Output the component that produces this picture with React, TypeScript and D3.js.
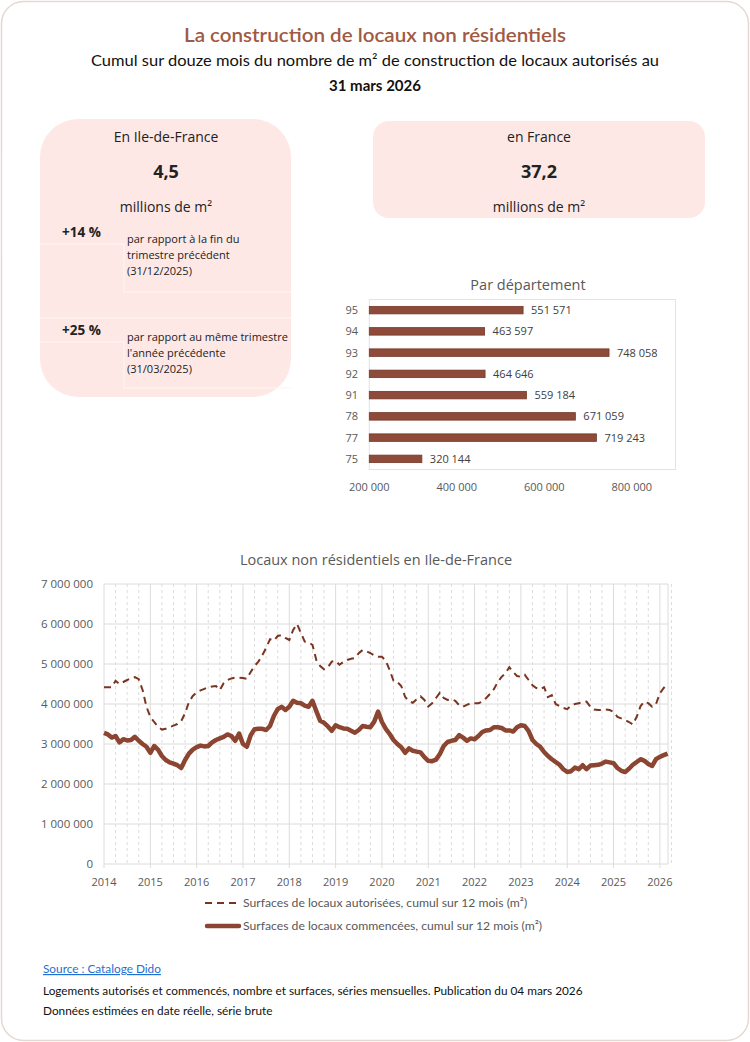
import React from 'react';
import * as d3 from 'd3';

// ---- Data ----
const departements = ['95', '94', '93', '92', '91', '78', '77', '75'];
const surfacesDep = [551571, 463597, 748058, 464646, 559184, 671059, 719243, 320144];
const barTicks = [200000, 400000, 600000, 800000];

const yearLabels = ['2014', '2015', '2016', '2017', '2018', '2019', '2020', '2021', '2022', '2023', '2024', '2025', '2026'];
const yTicks = [0, 1000000, 2000000, 3000000, 4000000, 5000000, 6000000, 7000000];

// monthly, Jan 2014 .. Mar 2026, millions of m²
const autorisees = [
  4.42, 4.42, 4.42, 4.58, 4.50, 4.55, 4.60, 4.64, 4.67, 4.62, 4.35, 3.93,
  3.68, 3.55, 3.43, 3.36, 3.38, 3.42, 3.46, 3.50, 3.57, 3.77, 4.05, 4.20,
  4.29, 4.34, 4.38, 4.42, 4.44, 4.45, 4.35, 4.52, 4.60, 4.64, 4.66, 4.66,
  4.65, 4.63, 4.80, 4.95, 5.06, 5.22, 5.40, 5.62, 5.58, 5.70, 5.72, 5.65,
  5.60, 5.85, 6.00, 5.78, 5.56, 5.54, 5.48, 5.10, 4.95, 4.87, 4.92, 5.06,
  5.08, 4.98, 5.05, 5.10, 5.13, 5.15, 5.27, 5.35, 5.32, 5.27, 5.22, 5.18,
  5.18, 5.08, 4.85, 4.58, 4.55, 4.45, 4.18, 4.07, 4.03, 4.12, 4.19, 4.10,
  3.94, 4.02, 4.15, 4.28, 4.15, 4.10, 4.12, 4.08, 3.97, 3.93, 3.98, 4.02,
  4.02, 4.02, 4.06, 4.15, 4.25, 4.37, 4.55, 4.68, 4.77, 4.92, 4.80, 4.70,
  4.68, 4.73, 4.60, 4.47, 4.40, 4.37, 4.42, 4.17, 4.22, 4.00, 3.95, 3.90,
  3.87, 3.96, 4.00, 4.02, 4.04, 4.06, 3.93, 3.86, 3.85, 3.85, 3.86, 3.85,
  3.80, 3.68, 3.64, 3.60, 3.55, 3.49, 3.68, 3.95, 4.06, 4.02, 3.93, 4.00,
  4.27, 4.40, 4.50,
];
const commencees = [
  3.28, 3.24, 3.16, 3.20, 3.04, 3.12, 3.09, 3.10, 3.18, 3.08, 3.00, 2.93,
  2.78, 2.95, 2.86, 2.70, 2.60, 2.54, 2.51, 2.47, 2.40, 2.60, 2.76, 2.86,
  2.92, 2.96, 2.94, 2.95, 3.04, 3.10, 3.14, 3.18, 3.24, 3.20, 3.08, 3.26,
  3.00, 2.93, 3.22, 3.37, 3.38, 3.38, 3.35, 3.45, 3.70, 3.87, 3.93, 3.85,
  3.93, 4.08, 4.03, 4.02, 3.96, 3.93, 4.08, 3.82, 3.58, 3.53, 3.44, 3.33,
  3.47, 3.42, 3.39, 3.38, 3.33, 3.28, 3.35, 3.45, 3.43, 3.42, 3.56, 3.81,
  3.55, 3.38, 3.25, 3.10, 3.00, 2.92, 2.78, 2.89, 2.83, 2.81, 2.79, 2.67,
  2.58, 2.57, 2.61, 2.75, 2.95, 3.05, 3.08, 3.10, 3.22, 3.16, 3.08, 3.14,
  3.12, 3.20, 3.30, 3.34, 3.35, 3.42, 3.42, 3.40, 3.34, 3.34, 3.31, 3.42,
  3.47, 3.45, 3.32, 3.10, 3.00, 2.93, 2.80, 2.70, 2.62, 2.55, 2.48, 2.37,
  2.30, 2.32, 2.41, 2.37, 2.47, 2.37, 2.46, 2.47, 2.48, 2.51, 2.56, 2.54,
  2.52, 2.40, 2.33, 2.30, 2.38, 2.48, 2.55, 2.62, 2.58, 2.50, 2.45, 2.62,
  2.68, 2.72, 2.76,
];

const legendLabels = [
  'Surfaces de locaux autorisées, cumul sur 12 mois (m²)',
  'Surfaces de locaux commencées, cumul sur 12 mois (m²)',
];

const fmt = (v: number) => d3.format(',')(v).replace(/,/g, ' ');

const GRAY = '#595959';
const BROWN = '#8b4531';
const PINK = '#fde8e6';
const FONT_C = 'Lato, "Open Sans", sans-serif';
const FONT_M = '"Open Sans", "Noto Sans", sans-serif';

export default function App() {
  // bar chart scales
  const xBar = d3.scaleLinear().domain([200000, 900000]).range([369.3, 675.5]);
  const pIn = 0.647;
  const yBar = d3.scaleBand<string>().domain(departements).range([299.5, 469.5]).paddingInner(pIn).paddingOuter(pIn / 2);

  // line chart scales
  const nMonths = autorisees.length;
  const xL = d3.scaleLinear().domain([0, nMonths - 1]).range([104, 667.6]);
  const yL = d3.scaleLinear().domain([0, 7000000]).range([864, 584]);
  const line = d3.line<number>().x((_, i) => xL(i)).y((d) => yL(d * 1e6)).curve(d3.curveLinear);
  const quarterLines = d3.range(3, nMonths + 1, 3).filter((m) => m % 12 !== 0);

  return (
    <div style={{ position: 'absolute', left: 0, top: 0 }}>
      <svg width={750} height={1042} style={{ display: 'block' }}>
        <rect x={0} y={0} width={750} height={1042} fill="#ffffff" />
        <rect x={1.5} y={1.5} width={747} height={1039} rx={22} fill="#ffffff" stroke="#e7d7d3" strokeWidth={1.5} />

        {/* Titles */}
        <text x={375} y={42} textAnchor="middle" fontFamily={FONT_C} fontWeight={600} fontSize={19} fill="#a05a44" textLength={382} lengthAdjust="spacingAndGlyphs">
          La construction de locaux non résidentiels
        </text>
        <text x={375} y={66} textAnchor="middle" fontFamily={FONT_C} fontSize={15} fill="#111" textLength={568} lengthAdjust="spacingAndGlyphs">
          Cumul sur douze mois du nombre de m² de construction de locaux autorisés au
        </text>
        <text x={375} y={91} textAnchor="middle" fontFamily={FONT_C} fontWeight={700} fontSize={15} fill="#111" textLength={92} lengthAdjust="spacingAndGlyphs">
          31 mars 2026
        </text>

        {/* Left box */}
        <rect x={40} y={119} width={251} height={278} rx={38} fill={PINK} />
        <g stroke="#fff4f2" strokeWidth={1} fill="none">
          <line x1={40} y1={244} x2={124} y2={244} />
          <line x1={124} y1={244} x2={124} y2={292} />
          <line x1={124} y1={292} x2={291} y2={292} />
          <line x1={40} y1={318} x2={291} y2={318} />
          <line x1={40} y1={342} x2={124} y2={342} />
          <line x1={124} y1={342} x2={124} y2={388} />
          <line x1={124} y1={388} x2={291} y2={388} />
        </g>
        <g fontFamily={FONT_M} fill="#222">
          <text x={166} y={142} textAnchor="middle" fontSize={14}>En Ile-de-France</text>
          <text x={166} y={178} textAnchor="middle" fontSize={18} fontWeight={700}>4,5</text>
          <text x={166} y={212} textAnchor="middle" fontSize={14}>millions de m²</text>
          <text x={62} y={237} fontSize={13.5} fontWeight={700}>+14 %</text>
          <text x={127} y={243} fontSize={11}>par rapport à la fin du</text>
          <text x={127} y={259} fontSize={11}>trimestre précédent</text>
          <text x={127} y={275} fontSize={11}>(31/12/2025)</text>
          <text x={62} y={335} fontSize={13.5} fontWeight={700}>+25 %</text>
          <text x={127} y={341} fontSize={11}>par rapport au même trimestre</text>
          <text x={127} y={357} fontSize={11}>l'année précédente</text>
          <text x={127} y={373} fontSize={11}>(31/03/2025)</text>
        </g>

        {/* Right box */}
        <rect x={373} y={121} width={332} height={97} rx={16} fill={PINK} />
        <g fontFamily={FONT_M} fill="#222">
          <text x={539} y={142} textAnchor="middle" fontSize={14}>en France</text>
          <text x={539} y={178} textAnchor="middle" fontSize={18} fontWeight={700}>37,2</text>
          <text x={539} y={212} textAnchor="middle" fontSize={14}>millions de m²</text>
        </g>

        {/* Bar chart */}
        <text x={528} y={290} textAnchor="middle" fontFamily={FONT_M} fontSize={14.5} fill={GRAY}>Par département</text>
        <rect x={369.3} y={299.5} width={306.2} height={170} fill="none" stroke="#e3e3e3" strokeWidth={1} />
        {departements.map((d, i) => {
          const y0 = yBar(d) as number;
          const bw = yBar.bandwidth();
          const x1 = xBar(surfacesDep[i]);
          return (
            <g key={d}>
              <rect x={xBar(200000)} y={y0} width={x1 - xBar(200000)} height={bw} fill="#8e4b39" stroke="#74382a" strokeWidth={0.8} />
              <text x={x1 + 8} y={y0 + bw / 2 + 4} fontFamily={FONT_M} fontSize={11} fill="#404040">{fmt(surfacesDep[i])}</text>
              <text x={358} y={y0 + bw / 2 + 4} textAnchor="end" fontFamily={FONT_M} fontSize={11} fill={GRAY}>{d}</text>
            </g>
          );
        })}
        {barTicks.map((t) => (
          <text key={t} x={xBar(t)} y={491} textAnchor="middle" fontFamily={FONT_M} fontSize={11} fill={GRAY}>{fmt(t)}</text>
        ))}

        {/* Line chart */}
        <text x={376} y={565} textAnchor="middle" fontFamily={FONT_M} fontSize={14.5} fill={GRAY}>Locaux non résidentiels en Ile-de-France</text>
        <g>
          {quarterLines.map((m) => (
            <line key={'q' + m} x1={xL(m)} x2={xL(m)} y1={584} y2={864} stroke="#dcdcdc" strokeWidth={1} strokeDasharray="3,3" />
          ))}
          {yearLabels.map((_, i) => (
            <line key={'yl' + i} x1={xL(i * 12)} x2={xL(i * 12)} y1={584} y2={868} stroke="#dcdcdc" strokeWidth={1} />
          ))}
          {yTicks.map((t) => (
            <line key={'h' + t} x1={104} x2={668} y1={yL(t)} y2={yL(t)} stroke="#dcdcdc" strokeWidth={1} />
          ))}
          <line x1={668} x2={668} y1={584} y2={864} stroke="#dcdcdc" strokeWidth={1} />
        </g>
        {yTicks.map((t) => (
          <text key={'yt' + t} x={93} y={yL(t) + 4} textAnchor="end" fontFamily={FONT_M} fontSize={11.5} fill={GRAY}>{fmt(t)}</text>
        ))}
        {yearLabels.map((y, i) => (
          <text key={'xt' + y} x={xL(i * 12)} y={886} textAnchor="middle" fontFamily={FONT_M} fontSize={11} fill={GRAY}>{y}</text>
        ))}
        <path d={line(commencees) || ''} fill="none" stroke={BROWN} strokeWidth={4.5} strokeLinejoin="round" />
        <path d={line(autorisees) || ''} fill="none" stroke="#7a3520" strokeWidth={2} strokeDasharray="7,5" />

        {/* Legend */}
        <line x1={205} x2={239} y1={903} y2={903} stroke="#7a3520" strokeWidth={2} strokeDasharray="7,5" />
        <text x={243} y={907} fontFamily={FONT_C} fontSize={12.2} fill={GRAY}>{legendLabels[0]}</text>
        <line x1={207} x2={239} y1={926} y2={926} stroke={BROWN} strokeWidth={4.5} strokeLinecap="round" />
        <text x={243} y={930} fontFamily={FONT_C} fontSize={12.2} fill={GRAY}>{legendLabels[1]}</text>

        {/* Footer */}
        <a href="#">
          <text x={43} y={973} fontFamily={FONT_C} fontSize={11.8} fill="#1f6fd1" textDecoration="underline">Source : Cataloge Dido</text>
        </a>
        <text x={43} y={995} fontFamily={FONT_C} fontSize={11.8} fill="#111">Logements autorisés et commencés, nombre et surfaces, séries mensuelles. Publication du 04 mars 2026</text>
        <text x={43} y={1015} fontFamily={FONT_C} fontSize={11.8} fill="#111">Données estimées en date réelle, série brute</text>
      </svg>
    </div>
  );
}
